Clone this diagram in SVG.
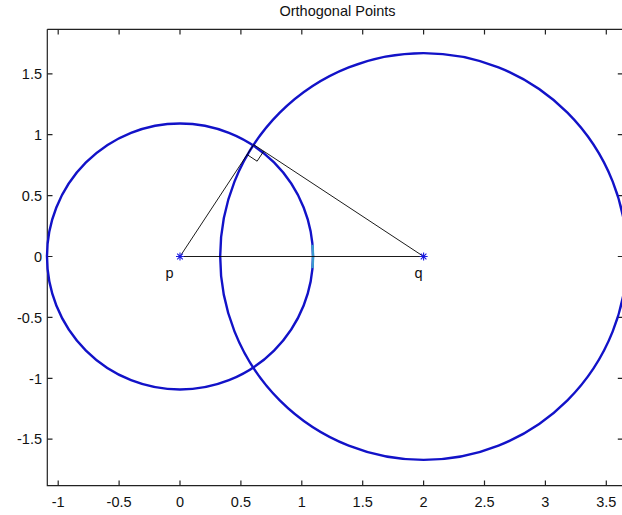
<svg xmlns="http://www.w3.org/2000/svg" width="622" height="515" viewBox="0 0 622 515">
<style>
text{font-family:"Liberation Sans",Arial,sans-serif;font-size:14.5px;fill:#111}
.xt{text-anchor:middle}
.yt{text-anchor:end}
.ax{stroke:#222;stroke-width:1.2;fill:none}
.circ{fill:none;stroke:#1212c8;stroke-width:2.4}
.ln{stroke:#000;stroke-width:0.9;fill:none}
.star{stroke:#1a1ae0;stroke-width:1.1}
</style>
<rect width="622" height="515" fill="#fff"/>
<g id="axes">
<path class="ax" d="M47.3,29.3H623M47.3,29.3V485.7H623"/>
<path class="ax" d="M58.2,29.3v5.2M119.1,29.3v5.2M180,29.3v5.2M240.9,29.3v5.2M301.8,29.3v5.2M362.7,29.3v5.2M423.6,29.3v5.2M484.5,29.3v5.2M545.4,29.3v5.2M606.3,29.3v5.2
M58.2,485.7v-5.2M119.1,485.7v-5.2M180,485.7v-5.2M240.9,485.7v-5.2M301.8,485.7v-5.2M362.7,485.7v-5.2M423.6,485.7v-5.2M484.5,485.7v-5.2M545.4,485.7v-5.2M606.3,485.7v-5.2
M47.3,73.8h5.2M47.3,134.7h5.2M47.3,195.6h5.2M47.3,256.5h5.2M47.3,317.4h5.2M47.3,378.3h5.2M47.3,439.2h5.2
M623,73.8h-5.2M623,134.7h-5.2M623,195.6h-5.2M623,256.5h-5.2M623,317.4h-5.2M623,378.3h-5.2M623,439.2h-5.2"/>
<text class="xt" x="58.2" y="506.5">-1</text>
<text class="xt" x="119.1" y="506.5">-0.5</text>
<text class="xt" x="180" y="506.5">0</text>
<text class="xt" x="240.9" y="506.5">0.5</text>
<text class="xt" x="301.8" y="506.5">1</text>
<text class="xt" x="362.7" y="506.5">1.5</text>
<text class="xt" x="423.6" y="506.5">2</text>
<text class="xt" x="484.5" y="506.5">2.5</text>
<text class="xt" x="545.4" y="506.5">3</text>
<text class="xt" x="606.3" y="506.5">3.5</text>
<text class="yt" x="42" y="79">1.5</text>
<text class="yt" x="42" y="139.9">1</text>
<text class="yt" x="42" y="200.8">0.5</text>
<text class="yt" x="42" y="261.7">0</text>
<text class="yt" x="42" y="322.6">-0.5</text>
<text class="yt" x="42" y="383.5">-1</text>
<text class="yt" x="42" y="444.4">-1.5</text>
<text class="xt" x="337.5" y="15.5">Orthogonal Points</text>
</g>
<g id="circle-p">
<circle class="circ" cx="180" cy="256.5" r="133"/>
<path d="M312.5,244.8A133,133 0 0 1 312.5,268.2" fill="none" stroke="#3a9ad0" stroke-width="2.4"/>
</g>
<g id="circle-q">
<circle class="circ" cx="423.6" cy="256.5" r="203.4"/>
</g>
<g id="connectors">
<path class="ln" d="M180,256.5L253.7,144.6L423.6,256.5M180,256.5H423.6"/>
<path class="ln" d="M247.1,154.6L257.1,161.2L263.7,151.2"/>
</g>
<g id="p">
<path class="star" d="M176,256.5h8M180,252.5v8M177.2,253.7l5.6,5.6M177.2,259.3l5.6,-5.6"/>
<text x="169.5" y="278" class="xt">p</text>
</g>
<g id="q">
<path class="star" d="M419.6,256.5h8M423.6,252.5v8M420.8,253.7l5.6,5.6M420.8,259.3l5.6,-5.6"/>
<text x="418.5" y="278" class="xt">q</text>
</g>
</svg>
